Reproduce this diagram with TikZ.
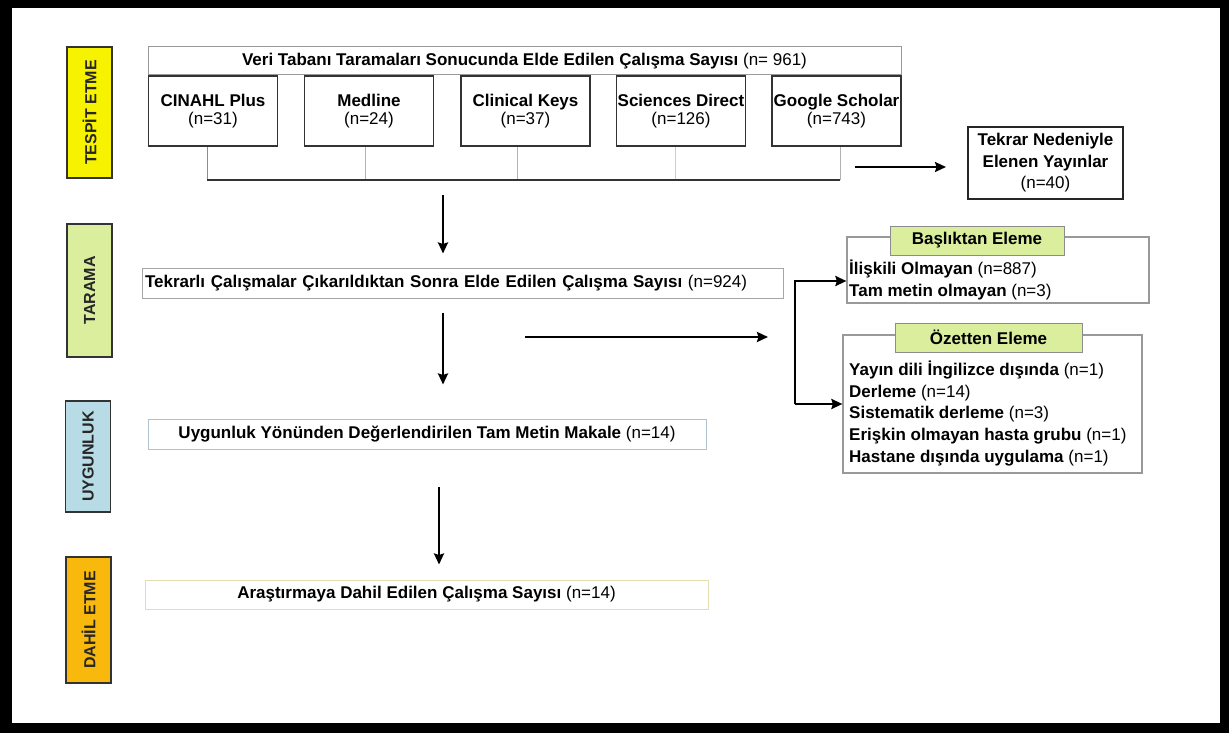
\documentclass[tikz,border=0pt]{standalone}
\usepackage{fontspec}
\setmainfont{Liberation Sans}
\usetikzlibrary{arrows.meta}
\definecolor{phaseyellow}{HTML}{F7F300}
\definecolor{phasegreen}{HTML}{DAEE9E}
\definecolor{phaseblue}{HTML}{B8DCE6}
\definecolor{phaseorange}{HTML}{F8B90C}
\definecolor{tabgreen}{HTML}{DAEE9E}
\definecolor{barblue}{HTML}{AEC2D2}
\definecolor{baryellow}{HTML}{E2DDB2}
\tikzset{
  phase/.style={draw=black!80, line width=1.5pt, rotate=90, minimum height=45pt,
    inner sep=0pt, font=\fontsize{16}{16}\selectfont\bfseries, text=black!85},
  dbbox/.style={draw=black!80, line width=1.6pt, minimum width=129pt, minimum height=70pt,
    inner sep=0pt, align=center, font=\fontsize{17}{18}\selectfont},
  bar/.style={draw=#1, line width=1pt, minimum height=29pt, inner sep=0pt,
    font=\fontsize{17}{18}\selectfont},
  tab/.style={draw=black!45, line width=1pt, fill=tabgreen, minimum height=29pt,
    inner sep=0pt, font=\fontsize{17}{18}\selectfont\bfseries},
  list/.style={align=left, inner sep=0pt, font=\fontsize{17}{21.7}\selectfont},
  arr/.style={-{Stealth[length=11pt,width=10pt,inset=1.5pt]}, line width=2.2pt},
}
\begin{document}
\begin{tikzpicture}[x=1pt,y=-1pt]
  % frame
  \fill[black] (0,0) rectangle (1229,733);
  \fill[white] (12,8) rectangle (1220,723);
  \useasboundingbox (0,0) rectangle (1229,733);

  % phases
  \node[phase, fill=phaseyellow, minimum width=131pt] (tespit) at (89.5,112.5) {TESPİT ETME};
  \node[phase, fill=phasegreen, minimum width=133pt] (tarama) at (89.5,290.5) {TARAMA};
  \node[phase, fill=phaseblue, minimum width=111pt] (uygun) at (88,456.5) {UYGUNLUK};
  \node[phase, fill=phaseorange, minimum width=126pt] (dahil) at (88.5,620) {DAHİL ETME};

  % databases
  \node[bar=black!40, minimum width=753pt, minimum height=28pt] (veri) at (524.5,61)
    {\textbf{Veri Tabanı Taramaları Sonucunda Elde Edilen Çalışma Sayısı} (n= 961)};
  \node[dbbox] (cinahl) at (213,111) {\textbf{CINAHL Plus}\\(n=31)};
  \node[dbbox] (medline) at (369,111) {\textbf{Medline}\\(n=24)};
  \node[dbbox] (clinical) at (525.5,111) {\textbf{Clinical Keys}\\(n=37)};
  \node[dbbox] (sciences) at (681,111) {\textbf{Sciences Direct}\\(n=126)};
  \node[dbbox] (google) at (836.5,111) {\textbf{Google Scholar}\\(n=743)};

  \coordinate (bl) at (207,180);
  \draw[black!45, line width=1pt] ([xshift=-6pt]cinahl.south) -- ([xshift=-6pt]cinahl.south |- bl);
  \draw[black!30, line width=1pt] ([xshift=-4pt]medline.south) -- ([xshift=-4pt]medline.south |- bl);
  \draw[black!30, line width=1pt] ([xshift=-8pt]clinical.south) -- ([xshift=-8pt]clinical.south |- bl);
  \draw[black!20, line width=1pt] ([xshift=-6pt]sciences.south) -- ([xshift=-6pt]sciences.south |- bl);
  \draw[black!30, line width=1pt] ([xshift=3.5pt]google.south) -- ([xshift=3.5pt]google.south |- bl);
  \draw[black!80, line width=2pt] (bl) -- ([xshift=3.5pt]google.south |- bl);

  \node[draw=black!85, line width=2pt, minimum width=155pt, minimum height=72pt, align=center,
    inner sep=0pt, font=\fontsize{17}{21.5}\selectfont] (tekrar) at (1045.5,163)
    {\textbf{Tekrar Nedeniyle}\\\textbf{Elenen Yayınlar}\\(n=40)};
  \coordinate (a2) at (855,167);
  \draw[arr] (a2) -- (a2 -| tekrar.west) [shorten >=21pt];

  % screening
  \node[bar=black!35, text width=635pt, inner xsep=3pt, minimum height=30pt, align=left] (tekrarli) at (462.5,283)
    {\textbf{Tekrarlı Çalışmalar Çıkarıldıktan Sonra Elde Edilen Çalışma Sayısı} (n=924)};
  \coordinate (a1) at (443,195);
  \draw[arr, shorten >=14pt] (a1) -- (a1 |- tekrarli.north);

  \node[draw=black!40, line width=1.2pt, minimum width=302pt, minimum height=66pt] (baslik) at (998,270) {};
  \node[tab, minimum width=174pt] (basliktab) at (977,240.5) {Başlıktan Eleme};
  \node[list, anchor=west] (basliktxt) at (849,280)
    {\textbf{İlişkili Olmayan} (n=887)\\\textbf{Tam metin olmayan} (n=3)};

  \node[draw=black!40, line width=1.2pt, minimum width=299pt, minimum height=138pt] (ozet) at (992.5,404) {};
  \node[tab, minimum width=187pt] (ozettab) at (988.5,337.5) {Özetten Eleme};
  \node[list, anchor=west] (ozettxt) at (849,413.5)
    {\textbf{Yayın dili İngilizce dışında} (n=1)\\
     \textbf{Derleme} (n=14)\\
     \textbf{Sistematik derleme} (n=3)\\
     \textbf{Erişkin olmayan hasta grubu} (n=1)\\
     \textbf{Hastane dışında uygulama} (n=1)};

  \coordinate (a4) at (525,337);
  \coordinate (a5) at (768,337);
  \draw[arr, line width=2.6pt] (a4) -- (a5);
  \coordinate (bk) at (795,404);
  \draw[arr, line width=2.8pt] (bk) |- ([yshift=-11pt]baslik.west);
  \draw[arr, line width=2.8pt] (bk) -- (ozet.west);

  % eligibility
  \node[bar=barblue, minimum width=558pt, minimum height=30pt] (uygunluk) at (427,434)
    {\textbf{Uygunluk Yönünden Değerlendirilen Tam Metin Makale} (n=14)};
  \coordinate (a3) at (443,313);
  \draw[arr, shorten >=34pt] (a3) -- (a3 |- uygunluk.north);

  % included
  \node[bar=baryellow, minimum width=563pt, minimum height=29pt] (arastirma) at (426.5,594.5)
    {\textbf{Araştırmaya Dahil Edilen Çalışma Sayısı} (n=14)};
  \coordinate (a6) at (439,487);
  \draw[arr, shorten >=15pt] (a6) -- (a6 |- arastirma.north);
\end{tikzpicture}
\end{document}
